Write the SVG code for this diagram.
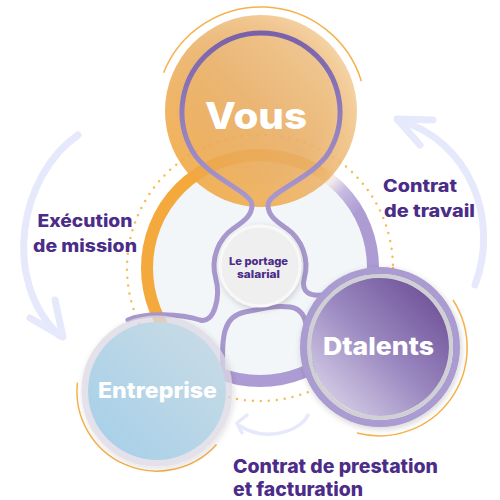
<svg xmlns="http://www.w3.org/2000/svg" width="500" height="500" viewBox="0 0 500 500">
<defs>
<style>
.lbl{font-family:Inter,"Liberation Sans",sans-serif;font-weight:800;fill:#4b2c88}
.nodetxt{font-family:Inter,"Liberation Sans",sans-serif;font-weight:800;fill:#ffffff;text-anchor:middle}
.arrow{fill:none;stroke:#e6e8fb;stroke-linecap:round;stroke-linejoin:round}
.thin{fill:none;stroke:#f5b24c;stroke-width:1.5}
.purp{fill:none;stroke:url(#purpGrad);stroke-width:5;stroke-linecap:round}
</style>
<linearGradient id="ringGrad" gradientUnits="userSpaceOnUse" x1="240" y1="240" x2="285" y2="285">
<stop offset="0" stop-color="#f4a93d"/>
<stop offset="0.35" stop-color="#f6ece9"/>
<stop offset="0.6" stop-color="#c7bbe2"/>
<stop offset="1" stop-color="#ad9cd3"/>
</linearGradient>
<linearGradient id="vousGrad" x1="0" y1="1" x2="1" y2="0">
<stop offset="0" stop-color="#f2a232"/>
<stop offset="0.5" stop-color="#ecb46c"/>
<stop offset="1" stop-color="#f8dcb2"/>
</linearGradient>
<radialGradient id="vousShade" cx="0.5" cy="0.45" r="0.5">
<stop offset="0.7" stop-color="#e0a25a" stop-opacity="0.25"/>
<stop offset="1" stop-color="#e0a25a" stop-opacity="0"/>
</radialGradient>
<linearGradient id="entGrad" x1="0" y1="1" x2="1" y2="0">
<stop offset="0" stop-color="#a4cfe9"/>
<stop offset="1" stop-color="#cbdce5"/>
</linearGradient>
<linearGradient id="dtGrad" x1="1" y1="0" x2="0" y2="1">
<stop offset="0" stop-color="#64448f"/>
<stop offset="0.5" stop-color="#9a88c0"/>
<stop offset="1" stop-color="#e4dff0"/>
</linearGradient>
<linearGradient id="purpGrad" gradientUnits="userSpaceOnUse" x1="0" y1="30" x2="0" y2="200">
<stop offset="0" stop-color="#7860aa"/>
<stop offset="1" stop-color="#a898cd"/>
</linearGradient>
<filter id="shadow" x="-20%" y="-20%" width="140%" height="140%">
<feDropShadow dx="1" dy="2" stdDeviation="3" flood-color="#000000" flood-opacity="0.18"/>
</filter>
</defs>

<g id="decor">
<circle cx="260" cy="268" r="133" fill="none" stroke="#f5bd55" stroke-width="2.5" stroke-linecap="round" stroke-dasharray="0 8"/>
<path class="thin" d="M163.6,72.7 A105 105 0 0 1 361.4,81.3"/>
<path class="thin" d="M77.4,382.6 A80 80 0 0 0 216.5,444.5"/>
<path class="thin" d="M453,300 A88 88 0 0 1 357,433"/>
</g>

<g id="connectors">
<path class="arrow" stroke-width="7" d="M78,135 C20,175 0,280 60,336"/>
<path class="arrow" stroke-width="7" d="M55,300 L63,337 L30,318"/>
<path class="arrow" stroke-width="7" d="M398,120 C470,140 500,220 475,285"/>
<path class="arrow" stroke-width="7" d="M433,120 L397,119 L420,145"/>
<path class="arrow" stroke-width="3.5" d="M308,415 C300,432 265,442 240,426"/>
<path class="arrow" stroke-width="3.5" d="M247,415 L237,423 L242,433"/>
</g>

<g id="ring">
<circle cx="260" cy="268" r="113" fill="#f2f6f9" stroke="url(#ringGrad)" stroke-width="12"/>
</g>

<g id="vous">
<circle cx="261" cy="111" r="96" fill="url(#vousGrad)" opacity="0.88"/>
<circle cx="261" cy="111" r="96" fill="url(#vousShade)"/>
</g>

<g id="links">
<path class="purp" d="M128,320 C145,312 182,314 200,320 C214,324 221,297 215.6,277.9 A46 46 0 0 1 233.6,228.3 C243.4,221.4 252,216 252,205 C252,192 207.6,177.5 192.6,151.5 A79 79 0 1 1 329.4,151.5 C314.4,177.5 268,192 268,205 C268,216 276.6,221.4 286.4,228.3 A46 46 0 0 1 304.4,277.9 C300.5,292.4 310,298 328,294"/>
<path class="purp" d="M223,372 C221,335 224,316 245,312 C262,309 272,305 290,307 C304,309 307,322 307,334 L308,372"/>
</g>

<g id="vous-label">
<text class="nodetxt" x="256" y="129" font-size="37" textLength="102" lengthAdjust="spacingAndGlyphs">Vous</text>
</g>

<g id="center">
<circle cx="260" cy="266" r="40" fill="#efefef" stroke="#f8f8f8" stroke-width="3" filter="url(#shadow)"/>
<text class="lbl" x="258.5" y="265" font-size="11" text-anchor="middle" textLength="59" lengthAdjust="spacingAndGlyphs">Le portage</text>
<text class="lbl" x="258.5" y="278" font-size="11" text-anchor="middle" textLength="43" lengthAdjust="spacingAndGlyphs">salarial</text>
</g>

<g id="entreprise">
<circle cx="157" cy="391" r="72" fill="none" stroke="#dcd8e4" stroke-width="7" opacity="0.75" filter="url(#shadow)"/>
<circle cx="157" cy="391" r="69" fill="url(#entGrad)"/>
<text class="nodetxt" x="157.5" y="398" font-size="22" textLength="119" lengthAdjust="spacingAndGlyphs">Entreprise</text>
</g>

<g id="dtalents">
<circle cx="380" cy="347" r="76.5" fill="none" stroke="#aa9bd0" stroke-width="7" filter="url(#shadow)"/>
<circle cx="380" cy="347" r="71" fill="none" stroke="#cfcfd4" stroke-width="4"/>
<circle cx="380" cy="347" r="69" fill="url(#dtGrad)"/>
<text class="nodetxt" x="378.5" y="355" font-size="25" textLength="111" lengthAdjust="spacingAndGlyphs">Dtalents</text>
</g>

<g id="labels">
<text class="lbl" x="85" y="227" font-size="17" text-anchor="middle" textLength="95" lengthAdjust="spacingAndGlyphs">Exécution</text>
<text class="lbl" x="85" y="252" font-size="17" text-anchor="middle" textLength="104" lengthAdjust="spacingAndGlyphs">de mission</text>
<text class="lbl" x="383" y="192" font-size="17" textLength="74" lengthAdjust="spacingAndGlyphs">Contrat</text>
<text class="lbl" x="384" y="217" font-size="17" textLength="91" lengthAdjust="spacingAndGlyphs">de travail</text>
<text class="lbl" x="233" y="473" font-size="19" textLength="205" lengthAdjust="spacingAndGlyphs">Contrat de prestation</text>
<text class="lbl" x="233" y="496" font-size="19" textLength="130" lengthAdjust="spacingAndGlyphs">et facturation</text>
</g>
</svg>
